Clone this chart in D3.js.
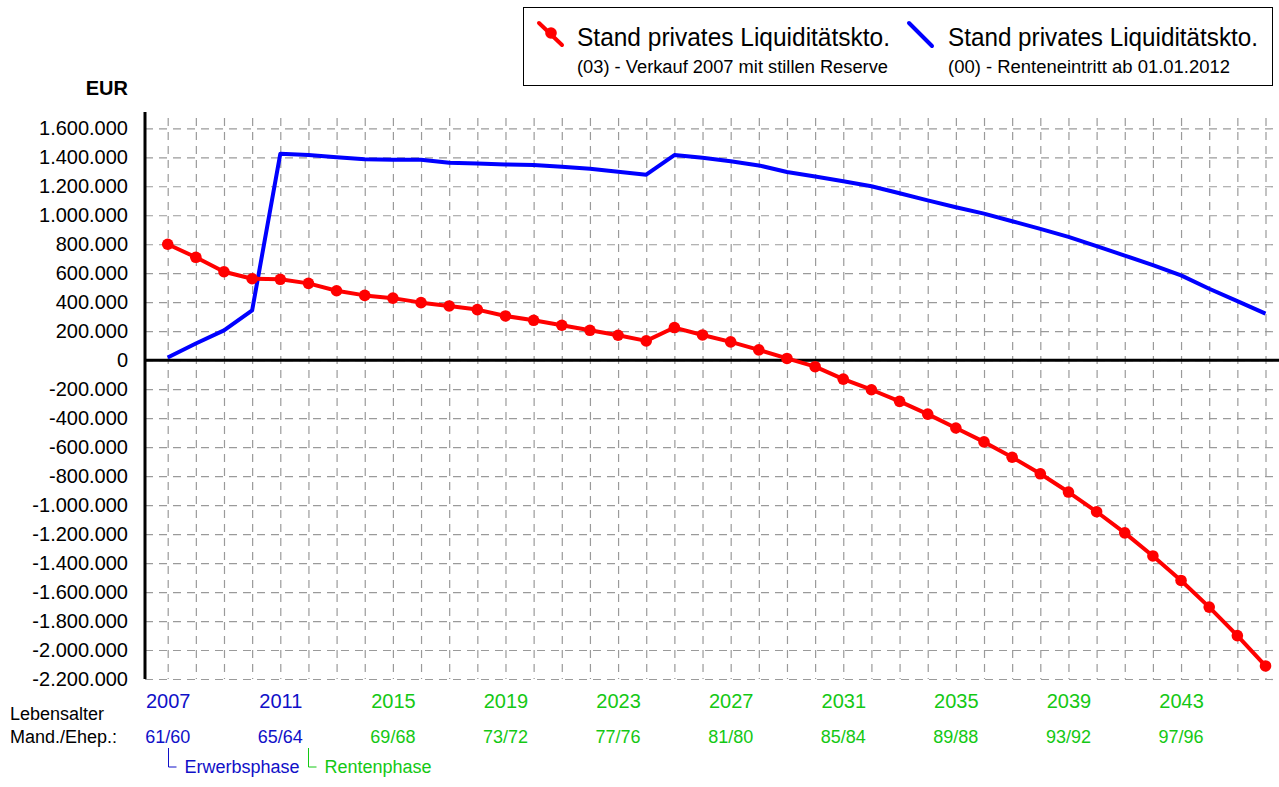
<!DOCTYPE html>
<html>
<head>
<meta charset="utf-8">
<script src="https://cdn.jsdelivr.net/npm/d3@7"></script>
<style>
  body { margin: 0; background: #fff; }
  svg { font-family: "Liberation Sans", Arial, sans-serif; }
  .grid line { stroke: #9a9a9a; stroke-width: 1.2; stroke-dasharray: 8,6; }
  .grid path { display: none; }
</style>
</head>
<body>
<div id="chart"></div>
<script>
// Data

var years = d3.range(2007, 2047);

// (03) - Verkauf 2007 mit stillen Reserve
var redValues = [800000, 710000, 610000, 562000, 558000, 530000, 479000, 447000, 428000, 397000,
                 374000, 349000, 305000, 275000, 241000, 206000, 172000, 133000, 225000, 174000,
                 126000, 71000, 12000, -45000, -131000, -204000, -284000, -372000, -468000, -564000,
                 -670000, -784000, -910000, -1046000, -1192000, -1351000, -1520000, -1704000, -1901000, -2110000];

// (00) - Renteneintritt ab 01.01.2012
var blueValues = [18000, 115000, 206000, 344000, 1424000, 1415000, 1401000, 1387000, 1383000, 1383000,
                  1362000, 1357000, 1351000, 1346000, 1335000, 1321000, 1300000, 1280000, 1415000, 1397000,
                  1372000, 1344000, 1298000, 1268000, 1234000, 1200000, 1152000, 1103000, 1055000, 1011000,
                  959000, 906000, 851000, 787000, 722000, 656000, 585000, 493000, 408000, 321000];

var yearLabels = [2007, 2011, 2015, 2019, 2023, 2027, 2031, 2035, 2039, 2043];
var ageLabels = ["61/60", "65/64", "69/68", "73/72", "77/76", "81/80", "85/84", "89/88", "93/92", "97/96"];
var legendTitles = ["Stand privates Liquiditätskto.", "Stand privates Liquiditätskto."];
var legendSubs = ["(03) - Verkauf 2007 mit stillen Reserve", "(00) - Renteneintritt ab 01.01.2012"];

var svgWidth = 1279;
var svgHeight = 787;

var blueText = "#1010c8";
var greenText = "#14c814";

var svg = d3.select("#chart")
  .append("svg")
  .attr("width", svgWidth)
  .attr("height", svgHeight);

var axisX = 145;
var rightEdge = 1279;

// scales
var x = d3.scaleLinear()
  .domain([2007, 2046])
  .range([167.7, 1265.5]);

var y = d3.scaleLinear()
  .domain([-2200000, 1600000])
  .range([679, 128.3]);

var de = d3.formatLocale({ decimal: ",", thousands: ".", grouping: [3], currency: ["", " €"], minus: "-" });
var fmt = de.format(",");

var yTicks = d3.range(-2200000, 1600001, 200000);

// horizontal grid
svg.append("g")
  .attr("class", "grid")
  .attr("transform", `translate(${axisX},0)`)
  .call(d3.axisRight(y).tickValues(yTicks).tickSize(rightEdge - axisX).tickFormat(""));

// vertical grid
svg.append("g")
  .attr("class", "grid")
  .attr("transform", "translate(0,118)")
  .call(d3.axisBottom(x).tickValues(years).tickSize(679 - 118).tickFormat(""));

// y tick labels
var yAxis = svg.append("g")
  .attr("transform", `translate(${axisX},0)`)
  .call(d3.axisLeft(y).tickValues(yTicks).tickSize(0).tickPadding(17).tickFormat(fmt));
yAxis.select(".domain").remove();
yAxis.selectAll("text")
  .attr("font-family", "'Liberation Sans', Arial, sans-serif")
  .attr("font-size", 20)
  .attr("fill", "#000");

// axis lines
svg.append("line")
  .attr("x1", axisX).attr("x2", axisX)
  .attr("y1", 112).attr("y2", 679)
  .attr("stroke", "#000").attr("stroke-width", 3);

svg.append("line")
  .attr("x1", axisX).attr("x2", rightEdge)
  .attr("y1", y(0)).attr("y2", y(0))
  .attr("stroke", "#000").attr("stroke-width", 3);

svg.append("text")
  .attr("x", 128).attr("y", 95)
  .attr("text-anchor", "end")
  .attr("font-size", 20)
  .attr("font-weight", "bold")
  .text("EUR");

// lines
var line = d3.line()
  .x((d, i) => x(years[i]))
  .y(d => y(d));

svg.append("path")
  .datum(blueValues)
  .attr("fill", "none")
  .attr("stroke", "#0000ff")
  .attr("stroke-width", 4)
  .attr("stroke-linejoin", "round")
  .attr("d", line);

svg.append("path")
  .datum(redValues)
  .attr("fill", "none")
  .attr("stroke", "#ff0000")
  .attr("stroke-width", 4)
  .attr("stroke-linejoin", "round")
  .attr("d", line);

svg.selectAll(".dot")
  .data(redValues)
  .enter()
  .append("circle")
  .attr("class", "dot")
  .attr("cx", (d, i) => x(years[i]))
  .attr("cy", d => y(d))
  .attr("r", 5.8)
  .attr("fill", "#ff0000");

// x labels
var xAxis = svg.append("g")
  .attr("transform", "translate(0,692)")
  .call(d3.axisBottom(x).tickValues(yearLabels).tickSize(0).tickPadding(0).tickFormat(d => d));
xAxis.select(".domain").remove();
xAxis.selectAll("text")
  .attr("font-family", "'Liberation Sans', Arial, sans-serif")
  .attr("font-size", 20)
  .attr("dy", "0.8em")
  .attr("fill", d => d <= 2011 ? blueText : greenText);

svg.selectAll(".age")
  .data(ageLabels)
  .enter()
  .append("text")
  .attr("class", "age")
  .attr("x", (d, i) => x(yearLabels[i]))
  .attr("y", 743)
  .attr("text-anchor", "middle")
  .attr("font-size", 18)
  .attr("fill", (d, i) => yearLabels[i] <= 2011 ? blueText : greenText)
  .text(d => d);

svg.append("text").attr("x", 10).attr("y", 720).attr("font-size", 18).text("Lebensalter");
svg.append("text").attr("x", 10).attr("y", 743).attr("font-size", 18).text("Mand./Ehep.:");

// phase brackets
var phases = [
  { year: 2007, label: "Erwerbsphase", color: blueText },
  { year: 2012, label: "Rentenphase", color: greenText }
];
phases.forEach(function(p) {
  var px = Math.round(x(p.year)) + 0.5;
  svg.append("path")
    .attr("d", `M${px},748 V767 H${px + 8}`)
    .attr("fill", "none")
    .attr("stroke", p.color)
    .attr("stroke-width", 1);
  svg.append("text")
    .attr("x", px + 16)
    .attr("y", 773)
    .attr("font-size", 18)
    .attr("fill", p.color)
    .text(p.label);
});

// legend
svg.append("rect")
  .attr("x", 523.5).attr("y", 7.5)
  .attr("width", 749).attr("height", 78)
  .attr("fill", "#fff")
  .attr("stroke", "#000")
  .attr("stroke-width", 1);

var legendX = [577, 948];
var titleW = [313, 310];
var subW = [311, 282];

// red marker
svg.append("line")
  .attr("x1", 539).attr("y1", 23).attr("x2", 562).attr("y2", 45)
  .attr("stroke", "#ff0000").attr("stroke-width", 4).attr("stroke-linecap", "round");
svg.append("circle")
  .attr("cx", 551).attr("cy", 33).attr("r", 5.8).attr("fill", "#ff0000");

// blue marker
svg.append("line")
  .attr("x1", 909).attr("y1", 23).attr("x2", 932).attr("y2", 46)
  .attr("stroke", "#0000ff").attr("stroke-width", 4).attr("stroke-linecap", "round");

legendTitles.forEach(function(t, i) {
  svg.append("text")
    .attr("x", legendX[i]).attr("y", 46)
    .attr("font-size", 25)
    .attr("textLength", titleW[i])
    .attr("lengthAdjust", "spacingAndGlyphs")
    .text(t);
  svg.append("text")
    .attr("x", legendX[i]).attr("y", 73)
    .attr("font-size", 18)
    .attr("textLength", subW[i])
    .attr("lengthAdjust", "spacingAndGlyphs")
    .text(legendSubs[i]);
});
</script>
</body>
</html>
